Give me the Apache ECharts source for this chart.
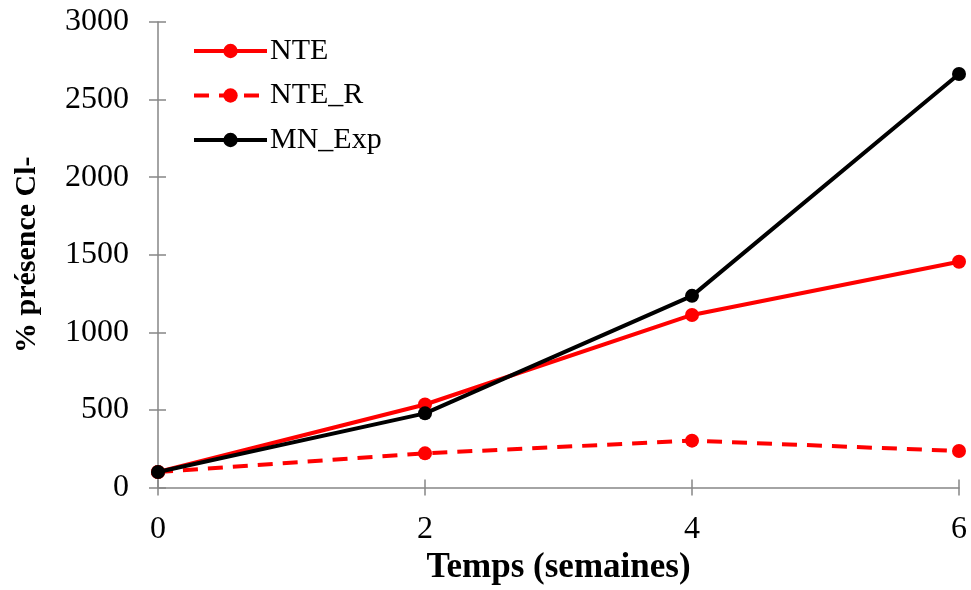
<!DOCTYPE html>
<html><head><meta charset="utf-8">
<script src="https://cdn.jsdelivr.net/npm/echarts@6/dist/echarts.min.js"></script>
<style>html,body{margin:0;padding:0;background:#fff}#c{width:971px;height:590px}</style>
</head><body><div id="c"></div>
<script>
const weeks = [0, 2, 4, 6];
const nte = [100, 535, 1112, 1455];
const nteR = [100, 220, 302, 235];
const mnExp = [100, 478, 1235, 2665];
const seriesNames = ['NTE', 'NTE_R', 'MN_Exp'];
const xTitle = 'Temps (semaines)';
const yTitle = '% présence Cl-';

const font = 'Liberation Serif';
const axisGray = '#868686';
const pairs = arr => weeks.map((w, i) => [w, arr[i]]);

const chart = echarts.init(document.getElementById('c'), null, {renderer: 'canvas'});
const baseX = {type: 'value', min: 0, max: 6, interval: 2, splitLine: {show: false}};
const baseY = {type: 'value', min: 0, max: 3000, interval: 500, splitLine: {show: false}};
chart.setOption({
  animation: false,
  backgroundColor: '#fff',
  grid: {left: 158, right: 12, top: 22, bottom: 102.5, containLabel: false, outerBoundsMode: 'none'},
  legend: {
    orient: 'vertical', left: 187, top: 31, itemWidth: 73, itemHeight: 18, itemGap: 14.5,
    lineStyle: {width: 4},
    textStyle: {fontFamily: font, fontSize: 30, color: '#000', padding: [0, 0, 0, -2]},
    data: seriesNames
  },
  xAxis: [
    Object.assign({}, baseX, {
      name: xTitle, nameLocation: 'middle', nameGap: 62,
      nameTextStyle: {fontFamily: font, fontSize: 35, fontWeight: 'bold', color: '#000'},
      axisLine: {lineStyle: {color: axisGray, width: 1.5}},
      axisTick: {length: 8, lineStyle: {color: axisGray, width: 1.5}},
      axisLabel: {fontFamily: font, fontSize: 32, color: '#000', margin: 26, formatter: v => String(v)}
    }),
    Object.assign({}, baseX, {
      position: 'bottom', axisLine: {show: false}, axisLabel: {show: false},
      axisTick: {inside: true, length: 8, lineStyle: {color: axisGray, width: 1.5}}
    })
  ],
  yAxis: [
    Object.assign({}, baseY, {
      name: yTitle, nameLocation: 'middle', nameGap: 116,
      nameTextStyle: {fontFamily: font, fontSize: 30, fontWeight: 'bold', color: '#000'},
      axisLine: {show: true, lineStyle: {color: axisGray, width: 1.5}},
      axisTick: {show: true, length: 9, lineStyle: {color: axisGray, width: 1.5}},
      axisLabel: {fontFamily: font, fontSize: 32, color: '#000', margin: 29, formatter: v => String(v)}
    }),
    Object.assign({}, baseY, {
      position: 'left', axisLine: {show: false}, axisLabel: {show: false},
      axisTick: {show: true, inside: true, length: 8, lineStyle: {color: axisGray, width: 1.5}}
    })
  ],
  series: [
    {name: seriesNames[0], type: 'line', data: pairs(nte), symbol: 'circle', symbolSize: 14,
     color: '#ff0000', lineStyle: {width: 4, color: '#ff0000'}, itemStyle: {color: '#ff0000'}, z: 3},
    {name: seriesNames[1], type: 'line', data: pairs(nteR), symbol: 'circle', symbolSize: 14,
     color: '#ff0000', lineStyle: {width: 4, color: '#ff0000', type: [15, 10]}, itemStyle: {color: '#ff0000'}, z: 2},
    {name: seriesNames[2], type: 'line', data: pairs(mnExp), symbol: 'circle', symbolSize: 14,
     color: '#000000', lineStyle: {width: 4, color: '#000000'}, itemStyle: {color: '#000000'}, z: 4}
  ]
});
</script></body></html>
